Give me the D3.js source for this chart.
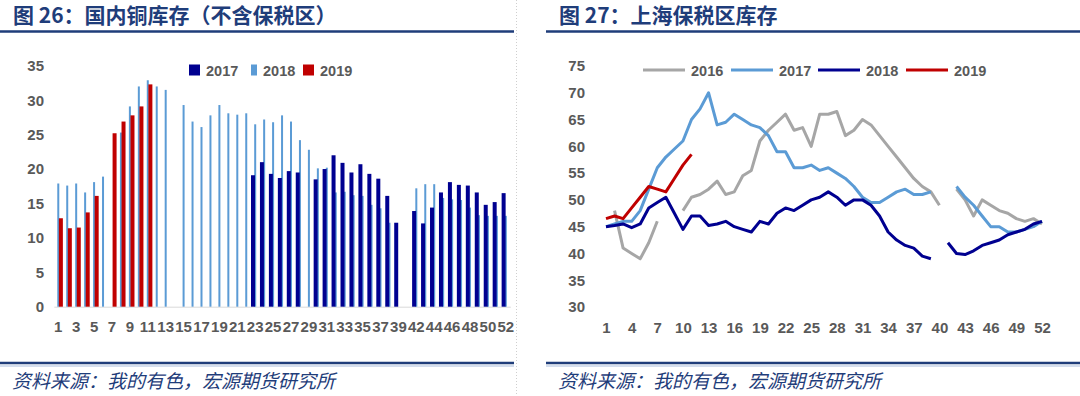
<!DOCTYPE html>
<html>
<head>
<meta charset="utf-8">
<script src="https://cdn.jsdelivr.net/npm/d3@7"></script>
<style>
  html, body { margin: 0; padding: 0; background: #fff; }
  svg { display: block; font-family: "Noto Sans CJK SC", "Noto Sans", sans-serif; }
</style>
</head>
<body>
<svg id="chart" width="1080" height="396"></svg>
<script>
// ---- left panel: weekly domestic copper stock (bars) ----
const barWeeks = [
  "1","2","3","4","5","6","7","8","9","10","11","12","13","14","15","16","17","18","19","20",
  "21","22","23","24","25","26","27","28","29","30","31","32","33","34","35","36","37","38","39","41",
  "42","43","44","45","46","47","48","49","50","51","52"
];
const bars2017 = [
  null,null,null,null,null,null,null,null,null,null,null,null,null,null,null,null,null,null,null,null,
  null,null,19.1,21.0,19.3,18.7,19.7,19.5,null,18.5,20.0,22.0,20.9,19.5,20.7,19.3,18.6,16.1,12.2,null,
  13.9,12.1,14.4,16.6,18.1,17.7,17.6,16.6,14.8,15.2,16.5
];
const bars2018 = [
  17.9,17.6,17.9,16.6,18.1,18.9,null,25.3,29.1,32.0,32.9,32.0,31.5,null,29.3,26.9,26.1,27.8,29.3,28.1,
  27.9,28.1,26.5,27.2,26.8,27.8,26.9,24.2,22.8,20.1,20.2,16.6,16.7,16.2,16.1,14.8,14.3,12.2,null,null,
  17.2,17.8,17.8,15.8,15.6,15.5,14.4,13.3,13.2,13.2,13.2
];
const bars2019 = [
  12.85,11.4,11.5,13.7,16.1,null,25.2,26.9,27.8,29.1,32.3
];
const barYTicks = [0, 5, 10, 15, 20, 25, 30, 35];

// ---- right panel: Shanghai bonded stock (lines) ----
const lineWeeks = d3.range(1, 53);
const line2016 = [
  null,48,41,40,39,42,46,null,null,48,50.5,51,52,53.5,51,51.5,54.5,55.5,61,63,
  64.5,66,63,63.5,60,66,66,66.5,62,63,65,64,62,60,58,56,54,52.5,51.5,49,
  null,52,50,47,50,49,48,47.5,46.5,46,46.5,45.5
];
const line2017 = [
  45,45.5,46,46,48,52,56,58,59.5,61,65,67,70,64,64.5,66,65,64,63.5,62,
  59,59,56,56,56.5,55.5,56,55,54,52.5,50.5,49.5,49.5,50.5,51.5,52,51,51,51.5,null,
  null,52.5,50.5,49,47,45,45,44,44,44.5,45,46
];
const line2018 = [
  45,45.2,45.5,44.8,45.5,48.5,49.5,50.5,47.5,44.5,47,47,45.2,45.5,46,45,44.5,44,46,45.5,
  47.5,48.5,48,49,50,50.5,51.5,50.5,49,50,50,49,47,44,42.5,41.5,41,39.5,39,null,
  42,40,39.8,40.5,41.5,42,42.5,43.5,44,44.5,45.5,46
];
const line2019 = [46.5,47,46.5,48.5,50.5,52.5,52,51.5,54,56.5,58.5];
const lineYTicks = [30, 35, 40, 45, 50, 55, 60, 65, 70, 75];
const lineXTicks = [1,4,7,10,13,16,19,22,25,28,31,34,37,40,43,46,49,52];

const titleColor = "#1F3D7A";
const tickColor = "#595959";
const tickFont = "Liberation Sans, Arial, sans-serif";
const svg = d3.select("#chart");

function panelFrame(x0, x1, title) {
  svg.append("text").attr("x", x0 + 13).attr("y", 23).attr("font-size", 21).attr("font-weight", 700)
    .attr("fill", titleColor).text(title);
  svg.append("line").attr("x1", x0).attr("x2", x1).attr("y1", 31.5).attr("y2", 31.5)
    .attr("stroke", titleColor).attr("stroke-width", 2.5);
  svg.append("line").attr("x1", x0).attr("x2", x1).attr("y1", 363).attr("y2", 363)
    .attr("stroke", titleColor).attr("stroke-width", 2.5);
  svg.append("line").attr("x1", x0).attr("x2", x1).attr("y1", 366).attr("y2", 366)
    .attr("stroke", "#A9BCDB").attr("stroke-width", 1);
  svg.append("text").attr("x", x0 + 12).attr("y", 388).attr("font-size", 19).attr("font-style", "italic")
    .attr("fill", titleColor).text("资料来源：我的有色，宏源期货研究所");
}

panelFrame(0, 514, "图 26：国内铜库存（不含保税区）");
panelFrame(546, 1080, "图 27：上海保税区库存");

svg.append("line").attr("x1", 516.5).attr("x2", 516.5).attr("y1", 0).attr("y2", 396)
  .attr("stroke", "#cfcfcf").attr("stroke-dasharray", "1,2");

// ---- left bar chart ----
{
  const x = d3.scaleBand().domain(barWeeks).range([53.8, 510.3]);
  const y = d3.scaleLinear().domain([0, 35]).range([306.7, 65.8]);
  const g = svg.append("g");

  const yAxis = g.append("g").attr("transform", "translate(44,0)")
    .call(d3.axisLeft(y).tickValues(barYTicks).tickSize(0).tickPadding(0));
  yAxis.select(".domain").remove();
  yAxis.selectAll("text").attr("font-size", 15).attr("font-weight", 700).attr("fill", tickColor)
    .attr("font-family", tickFont);

  const xAxis = g.append("g").attr("transform", `translate(0,${y(0)})`)
    .call(d3.axisBottom(x).tickValues(barWeeks.filter((d, i) => i % 2 === 0)).tickSize(0).tickPadding(15));
  xAxis.select(".domain").attr("stroke", "#d9d9d9");
  xAxis.selectAll("text").attr("font-size", 15).attr("font-weight", 700).attr("fill", tickColor)
    .attr("font-family", tickFont);

  const c = (d) => x(d) + x.bandwidth() / 2;
  const series = [
    { data: bars2018, color: "#5B9BD5", dx: -1, w: 2 },
    { data: bars2017, color: "#000090", dx: -4.2, w: 4 },
    { data: bars2019, color: "#C00000", dx: 0.6, w: 4 }
  ];
  series.forEach((s) => {
    const rows = s.data.map((v, i) => ({ week: barWeeks[i], v })).filter((r) => r.v != null);
    g.append("g").selectAll("rect").data(rows).join("rect")
      .attr("x", (r) => c(r.week) + s.dx)
      .attr("width", s.w)
      .attr("y", (r) => y(r.v))
      .attr("height", (r) => y(0) - y(r.v))
      .attr("fill", s.color);
  });

  const legend = [
    { name: "2017", color: "#000090", x: 189, w: 11, tx: 206 },
    { name: "2018", color: "#5B9BD5", x: 251, w: 6, tx: 263 },
    { name: "2019", color: "#C00000", x: 303, w: 11, tx: 320 }
  ];
  legend.forEach((l) => {
    g.append("rect").attr("x", l.x).attr("y", 64.5).attr("width", l.w).attr("height", 11).attr("fill", l.color);
    g.append("text").attr("x", l.tx).attr("y", 75.5).attr("font-size", 14.5)
      .attr("font-weight", 700).attr("fill", tickColor).attr("font-family", tickFont).text(l.name);
  });
}

// ---- right line chart ----
{
  const x = d3.scaleLinear().domain([1, 52]).range([606, 1042]);
  const y = d3.scaleLinear().domain([30, 75]).range([307, 66]);
  const g = svg.append("g");

  const yAxis = g.append("g").attr("transform", "translate(585,0)")
    .call(d3.axisLeft(y).tickValues(lineYTicks).tickSize(0).tickPadding(0));
  yAxis.select(".domain").remove();
  yAxis.selectAll("text").attr("font-size", 15).attr("font-weight", 700).attr("fill", tickColor)
    .attr("font-family", tickFont);

  const xAxis = g.append("g").attr("transform", `translate(0,${y(30)})`)
    .call(d3.axisBottom(x).tickValues(lineXTicks).tickFormat(d3.format("d")).tickSize(0).tickPadding(15));
  xAxis.select(".domain").remove();
  xAxis.selectAll("text").attr("font-size", 15).attr("font-weight", 700).attr("fill", tickColor)
    .attr("font-family", tickFont);

  const line = d3.line().defined((d) => d.v != null).x((d) => x(d.week)).y((d) => y(d.v));
  const series = [
    { name: "2016", data: line2016, color: "#A6A6A6", lx: 643 },
    { name: "2017", data: line2017, color: "#5B9BD5", lx: 731 },
    { name: "2018", data: line2018, color: "#000090", lx: 818 },
    { name: "2019", data: line2019, color: "#C00000", lx: 906 }
  ];
  series.forEach((s) => {
    const rows = s.data.map((v, i) => ({ week: lineWeeks[i], v }));
    g.append("path").datum(rows).attr("d", line).attr("fill", "none")
      .attr("stroke", s.color).attr("stroke-width", 3).attr("stroke-linejoin", "round");
    g.append("line").attr("x1", s.lx).attr("x2", s.lx + 42).attr("y1", 70).attr("y2", 70)
      .attr("stroke", s.color).attr("stroke-width", 3);
    g.append("text").attr("x", s.lx + 48).attr("y", 75.5).attr("font-size", 14.5).attr("font-weight", 700)
      .attr("fill", tickColor).attr("font-family", tickFont).text(s.name);
  });
}
</script>
</body>
</html>
